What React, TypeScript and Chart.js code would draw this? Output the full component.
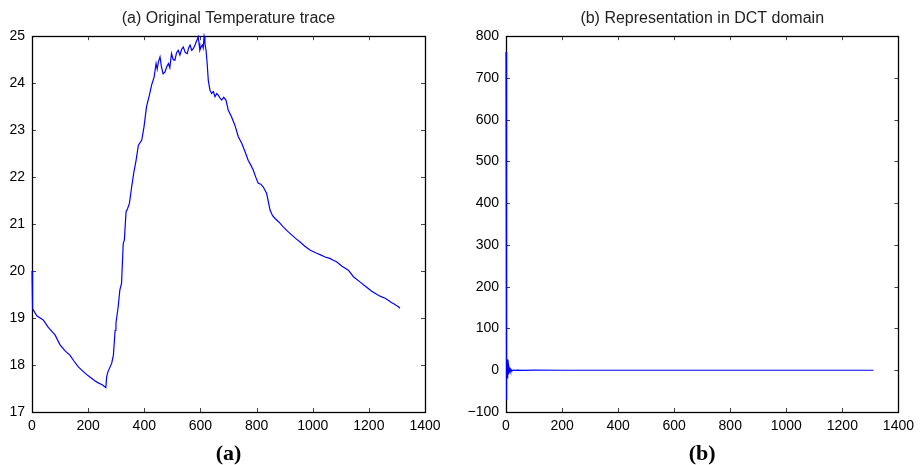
import React, { useEffect, useRef } from "react";
import { Chart, registerables } from "chart.js";

Chart.register(...registerables);

// (a) Original temperature trace: sample index -> temperature
const traceX = [
  0, 2, 17, 40, 58, 82, 100, 118, 135, 150, 165, 183, 198, 212, 225, 236, 250, 263, 266, 270,
  284, 290, 296, 299, 307, 313, 319, 325, 329, 335, 340, 347, 355, 363, 370, 379, 391, 399, 408, 418,
  426, 435, 442, 446, 450, 456, 461, 467, 474, 480, 486, 491, 497, 503, 509, 515, 521, 527, 533, 539,
  546, 553, 558, 563, 569, 575, 581, 587, 592, 595, 598, 603, 607, 610, 613, 616, 620, 624, 628, 634,
  640, 646, 652, 658, 664, 670, 676, 683, 691, 699, 711, 723, 735, 747, 759, 770, 780, 788, 797, 806,
  815, 824, 836, 848, 857, 866, 880, 895, 910, 925, 940, 955, 972, 990, 1014, 1030, 1044, 1061, 1073, 1085,
  1103, 1127, 1145, 1168, 1183, 1198, 1210, 1222, 1235, 1246, 1258, 1269, 1280, 1287, 1297, 1305, 1311,
];
const traceY = [
  20.0, 19.2, 19.05, 18.96, 18.8, 18.64, 18.43, 18.3, 18.21, 18.08, 17.96, 17.86, 17.78, 17.72, 17.66, 17.62, 17.58, 17.52, 17.75, 17.85,
  18.04, 18.21, 18.74, 18.89, 19.24, 19.6, 19.74, 20.59, 20.66, 21.26, 21.32, 21.44, 21.79, 22.11, 22.33, 22.68, 22.79, 23.07, 23.5, 23.74,
  23.96, 24.13, 24.42, 24.3, 24.45, 24.56, 24.35, 24.2, 24.24, 24.35, 24.42, 24.33, 24.63, 24.5, 24.49, 24.65, 24.7, 24.6, 24.72, 24.77,
  24.65, 24.63, 24.75, 24.81, 24.7, 24.74, 24.82, 24.91, 24.99, 24.85, 24.7, 24.78, 24.81, 24.75, 24.99, 24.85, 24.7, 24.42, 24.06, 23.85,
  23.78, 23.82, 23.71, 23.78, 23.74, 23.68, 23.64, 23.7, 23.64, 23.43, 23.28, 23.1, 22.86, 22.72, 22.54, 22.36, 22.25, 22.15, 22.0, 21.87,
  21.85, 21.79, 21.65, 21.3, 21.18, 21.12, 21.04, 20.94, 20.85, 20.77, 20.69, 20.62, 20.53, 20.45, 20.38, 20.34, 20.3, 20.27, 20.23, 20.2,
  20.11, 20.02, 19.88, 19.77, 19.7, 19.63, 19.57, 19.53, 19.48, 19.45, 19.42, 19.38, 19.33, 19.31, 19.27, 19.24, 19.21,
];

// (b) DCT coefficients: coefficient index -> value
const dctX = [
  0, 1, 2, 3, 4, 5, 6, 7, 8, 9, 10, 11, 12, 13, 14, 15, 16, 17, 18, 19, 20, 24, 28, 33,
  40, 60, 100, 200, 300, 400, 500, 600, 700, 800, 900, 1000, 1100, 1200, 1300, 1311,
];
const dctY = [
  762, -8, -72, 6, 26, -4, -20, 7, 14, -5, -10, 4, 7, -3, -5, 2, 4, -2, -2, 1, 1, -1, 0.8, -0.5,
  0.3, -0.2, 0.1, 0, 0, 0, 0, 0, 0, 0, 0, 0, 0, 0, 0, 0,
];

const xTicksMax = 1400;
const leftTitle = "(a) Original Temperature trace";
const rightTitle = "(b) Representation in DCT domain";
const leftLabel = "(a)";
const rightLabel = "(b)";

const boxPlugin = {
  id: "matlabBox",
  beforeDatasetsDraw(chart: any) {
    const { ctx, chartArea: a, scales } = chart;
    const L = 4;
    ctx.save();
    ctx.strokeStyle = "#444";
    ctx.lineWidth = 1;
    ctx.beginPath();
    for (const t of scales.x.ticks) {
      const px = Math.round(scales.x.getPixelForValue(t.value)) + 0.5;
      ctx.moveTo(px, a.bottom);
      ctx.lineTo(px, a.bottom - L);
      ctx.moveTo(px, a.top);
      ctx.lineTo(px, a.top + L);
    }
    for (const t of scales.y.ticks) {
      const py = Math.round(scales.y.getPixelForValue(t.value)) + 0.5;
      ctx.moveTo(a.left, py);
      ctx.lineTo(a.left + L, py);
      ctx.moveTo(a.right, py);
      ctx.lineTo(a.right - L, py);
    }
    ctx.stroke();
    ctx.strokeStyle = "#000";
    ctx.lineWidth = 1.3;
    ctx.strokeRect(Math.round(a.left) + 0.5, Math.round(a.top) + 0.5, Math.round(a.right - a.left), Math.round(a.bottom - a.top));
    ctx.restore();
  },
};

function makeConfig(
  xs: number[],
  ys: number[],
  yMin: number,
  yMax: number,
  yStep: number,
  yAxisWidth: number,
  padRight: number,
  title: string,
  label: string
): any {
  const tickFont = { family: "'Liberation Sans', Arial, sans-serif", size: 14 };
  return {
    type: "line",
    data: {
      datasets: [
        {
          data: xs.map((x, i) => ({ x, y: ys[i] })),
          borderColor: "#0000ff",
          borderWidth: 1.2,
          pointRadius: 0,
          fill: false,
          tension: 0,
          clip: 3,
        },
      ],
    },
    options: {
      responsive: false,
      animation: false,
      devicePixelRatio: 1,
      layout: { padding: { top: 0, right: padRight, bottom: 0, left: 0 } },
      plugins: {
        legend: { display: false },
        tooltip: { enabled: false },
        title: {
          display: true,
          text: title,
          fullSize: false,
          color: "#222",
          font: { family: "'Liberation Sans', Arial, sans-serif", size: 16, weight: "normal", lineHeight: 1.2 },
          padding: { top: 9, bottom: 8 },
        },
      },
      scales: {
        x: {
          type: "linear",
          min: 0,
          max: xTicksMax,
          grid: { display: false, drawTicks: false },
          border: { display: false },
          ticks: {
            stepSize: 200,
            color: "#000",
            font: tickFont,
            padding: 6,
            maxRotation: 0,
            callback: (v: number) => String(v),
          },
          title: {
            display: true,
            text: label,
            color: "#000",
            font: { family: "'Liberation Serif', 'Times New Roman', serif", size: 22, weight: "bold", lineHeight: 1 },
            padding: 0,
          },
          afterFit: (s: any) => {
            s.height = 53;
          },
        },
        y: {
          type: "linear",
          min: yMin,
          max: yMax,
          grid: { display: false, drawTicks: false },
          border: { display: false },
          ticks: {
            stepSize: yStep,
            color: "#000",
            font: tickFont,
            padding: 7,
            callback: (v: number) => String(v).replace("-", "\u2212"),
          },
          afterFit: (s: any) => {
            s.width = yAxisWidth;
          },
        },
      },
    },
    plugins: [boxPlugin],
  };
}

export default function App() {
  const leftRef = useRef<HTMLCanvasElement>(null);
  const rightRef = useRef<HTMLCanvasElement>(null);

  useEffect(() => {
    const c1 = new Chart(
      leftRef.current as HTMLCanvasElement,
      makeConfig(traceX, traceY, 17, 25, 1, 32, 35, leftTitle, leftLabel)
    );
    const c2 = new Chart(
      rightRef.current as HTMLCanvasElement,
      makeConfig(dctX, dctY, -100, 800, 100, 46, 21, rightTitle, rightLabel)
    );
    return () => {
      c1.destroy();
      c2.destroy();
    };
  }, []);

  return (
    <div style={{ position: "absolute", left: 0, top: 0, width: 920, height: 465, background: "#fff" }}>
      <div style={{ position: "absolute", left: 0, top: 0, width: 460, height: 465 }}>
        <canvas ref={leftRef} width={460} height={465} />
      </div>
      <div style={{ position: "absolute", left: 460, top: 0, width: 460, height: 465 }}>
        <canvas ref={rightRef} width={460} height={465} />
      </div>
    </div>
  );
}
